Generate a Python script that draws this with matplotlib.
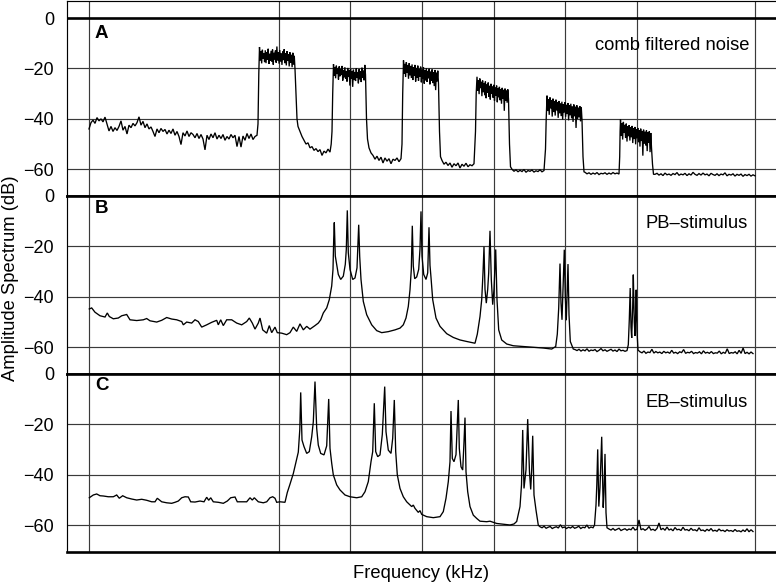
import numpy as np
import matplotlib
matplotlib.use("Agg")
import matplotlib.pyplot as plt

plt.rcParams['font.family'] = ['Liberation Sans', 'DejaVu Sans']

# ---------------------------------------------------------------
# Data (frequency in arbitrary axis units, level in dB)
# ---------------------------------------------------------------
grid_freq = [89.3, 278.7, 350.0, 422.0, 493.7, 565.3, 636.7, 755.0]
level_ticks = [0, -20, -40, -60]
tick_labels = ['0', '\u221220', '\u221240', '\u221260']

# Panel A - comb filtered noise: sharp band edges ...
a_freq = [258.0, 258.8, 296.0, 297.0, 298.0, 300, 302, 304, 306, 308, 310, 312, 314,
          316, 318, 320, 322, 324, 326, 328, 330, 331.2, 332.0, 332.7,
          366.5, 367.5, 402.0, 402.7, 439.5, 440.5, 475.5, 476.2,
          509.5, 510.5, 545.5, 546.2, 583.0, 584.0, 619.7, 620.1, 652.5, 653.5]
a_level = [-42.0, -22.0, -30.0, -40.0, -43.0, -45.0, -47.0, -48.5, -50.0, -49.5, -51.5, -51.0, -52.5,
           -51.8, -53.0, -52.2, -54.5, -52.8, -53.5, -52.0, -53.2, -50.0, -45.0, -30.0,
           -40.0, -48.0, -50.0, -30.0, -45.0, -55.0, -45.0, -30.0,
           -50.0, -59.0, -52.0, -40.0, -55.0, -61.0, -55.0, -45.0, -58.0, -62.0]
# ... and noisy runs: (first freq, last freq, levels evenly spaced in frequency)
a_runs = [
    (89, 257, [-44.0, -41.5, -40.5, -41.8, -39.5, -40.8, -40.0, -41.2, -39.3, -42.0, -44.8, -43.0,
               -45.0, -43.5, -44.6, -43.0, -40.8, -44.5, -43.0, -46.0, -42.5, -43.5, -41.8, -42.8,
               -41.5, -39.2, -42.5, -41.0, -43.5, -42.0, -44.0, -43.2, -45.0, -47.0, -44.0, -45.5,
               -43.8, -45.0, -44.2, -46.0, -44.5, -45.8, -44.0, -46.5, -45.0, -47.0, -50.2, -45.5,
               -46.8, -44.8, -47.0, -45.5, -46.2, -47.5, -45.8, -47.8, -46.2, -48.0, -52.3, -46.5,
               -48.2, -46.0, -47.5, -45.5, -48.0, -46.5, -47.8, -46.2, -48.5, -47.0, -48.0, -46.2,
               -47.5, -46.5, -51.0, -47.0, -51.2, -46.8, -48.5, -45.8, -47.8, -46.0, -48.2, -47.0,
               -46.5]),
    (259.5, 295.0, [-11.5, -16.8, -13.2, -18.0, -12.6, -16.2, -14.0, -17.5, -12.8, -17.9, -13.5,
                    -16.6, -12.2, -18.2, -14.2, -16.9, -13.0, -17.4, -12.5, -18.5, -13.8, -16.4,
                    -12.9, -17.7, -11.3, -16.8, -13.6, -18.1, -12.7, -17.2, -14.1, -18.6, -13.3,
                    -16.7, -12.4, -17.9, -13.9, -18.8, -13.1, -17.0, -14.4, -19.2, -13.6, -17.8,
                    -14.6, -19.5, -13.8, -18.4, -15.0, -20.2]),
    (333.5, 365.5, [-18.3, -22.8, -19.6, -23.9, -18.9, -22.2, -20.1, -24.4, -19.2, -23.1, -20.4,
                    -22.6, -19.0, -24.8, -20.6, -23.5, -19.5, -24.1, -21.0, -25.2, -19.8, -23.4,
                    -20.7, -26.8, -20.2, -24.0, -21.2, -27.3, -20.5, -24.6, -21.4, -25.0, -20.0,
                    -23.8, -21.6, -25.9, -20.3, -24.3, -21.1, -25.4, -19.7, -23.6, -20.9, -24.7,
                    -18.6, -22.5]),
    (369, 401, [-51.5, -53.5, -54.5, -56.0, -54.8, -56.5, -55.2, -57.5, -55.5, -56.8, -55.8,
                -57.8, -56.0, -56.5, -55.5, -57.0, -55.8]),
    (403.5, 438.5, [-16.8, -22.0, -18.2, -23.4, -17.5, -21.6, -18.8, -24.1, -17.9, -22.7, -19.0,
                    -23.8, -18.4, -24.6, -19.5, -22.9, -18.6, -25.2, -19.8, -23.6, -18.9, -24.9,
                    -20.2, -23.3, -19.3, -25.5, -20.5, -24.2, -19.6, -26.0, -20.8, -24.7, -19.9,
                    -25.3, -21.0, -23.9, -20.1, -26.3, -21.3, -24.8, -20.4, -25.8, -21.5, -27.0,
                    -20.6, -28.6, -21.7, -25.1, -20.9, -26.1]),
    (442, 474, [-56.5, -58.0, -57.2, -58.5, -57.5, -59.2, -57.8, -58.6, -57.5, -59.5, -58.0,
                -58.8, -57.6, -59.0, -58.2, -58.6, -57.8]),
    (477, 508.5, [-23.3, -28.9, -24.6, -30.2, -24.0, -27.8, -25.3, -31.0, -24.8, -29.4, -25.9,
                  -30.6, -25.2, -31.8, -26.4, -29.7, -25.6, -31.2, -26.9, -32.3, -26.1, -30.1,
                  -27.2, -31.6, -26.5, -32.8, -27.6, -30.7, -26.8, -33.4, -27.9, -31.4, -27.3,
                  -32.6, -28.2, -34.0, -27.7, -31.9, -28.5, -36.8, -28.0, -32.9, -28.8, -33.6,
                  -28.3, -32.2]),
    (512, 544, [-60.0, -60.8, -60.2, -61.0, -60.4, -60.9, -60.1, -61.2, -60.5, -60.8, -60.3,
                -61.1, -60.6, -60.9, -60.2, -61.0, -60.5]),
    (547, 582, [-30.8, -36.9, -32.2, -38.4, -31.5, -35.8, -32.7, -39.1, -32.0, -37.3, -33.1,
                -38.7, -32.4, -36.6, -33.5, -39.6, -32.9, -37.8, -33.8, -38.9, -33.2, -40.3,
                -34.1, -37.5, -33.4, -39.2, -34.4, -38.1, -33.7, -40.6, -34.7, -38.6, -34.0,
                -39.8, -35.0, -41.2, -34.3, -39.0, -35.2, -43.6, -34.6, -40.1, -35.5, -39.4,
                -34.9, -41.0, -35.3, -40.4]),
    (585, 619, [-61.2, -61.8, -61.4, -62.0, -61.5, -61.9, -61.3, -62.1, -61.6, -61.8, -61.4,
                -62.0, -61.5, -61.9, -61.3, -61.8, -61.5, -61.9]),
    (620.5, 651.5, [-40.3, -46.8, -41.8, -48.2, -41.2, -45.6, -42.4, -47.6, -41.9, -49.0, -43.0,
                    -46.9, -42.5, -48.6, -43.4, -47.3, -42.8, -49.6, -43.8, -48.0, -43.2, -50.1,
                    -44.2, -47.7, -43.6, -49.3, -44.5, -51.0, -43.9, -48.8, -44.8, -54.6, -44.3,
                    -49.9, -45.1, -50.6, -44.6, -52.8, -45.4, -49.5, -44.9, -53.2, -45.6, -51.4]),
    (655, 755, [-62.0, -61.6, -62.3, -61.8, -62.5, -61.5, -62.2, -61.9, -62.4, -61.7, -62.1,
                -61.3, -62.4, -61.9, -62.2, -61.6, -62.5, -61.8, -62.3, -61.2, -62.0, -62.4,
                -61.7, -62.3, -61.5, -62.2, -61.9, -62.6, -61.6, -62.1, -62.4, -61.8, -62.5,
                -61.9, -62.2, -61.4, -62.6, -62.0, -62.3, -61.8, -62.7, -62.0, -62.4, -61.9,
                -62.8, -62.1, -62.5, -62.0, -62.7, -62.2, -62.6]),
]

# Panel B - PB-stimulus
b_freq = [89.3, 91.7, 95, 100, 105, 107.3, 109.3, 113.3, 118.3, 121.7, 126.7, 130, 136.7, 143.3,
          146.7, 150, 156.7, 161.7, 166.7, 171.7, 176.7, 181.7, 183.3, 186.7, 191.7, 195, 198.3,
          201.7, 206.7, 211.7, 216.7, 218.3, 220.7, 223.3, 226.7, 231.7, 236.7, 241.7, 246.7,
          249.3, 252.3, 255, 258.3, 260, 262.7, 266.7, 269.3, 271.7, 275, 277.3, 281.7, 286.7,
          290, 293.3, 296.7, 300, 303.3, 306.7, 310, 315, 318.3, 320.7, 323.3, 326.7, 329.3,
          331.7, 333, 333.7, 334.3, 335.3, 336.7, 338.3, 340.7, 343.3, 345.3, 346.3, 347.3,
          348.3, 350, 352.7, 355, 357, 358, 358.7, 359.7, 361, 363.3, 366.7, 371.7, 376.7,
          381.7, 388.3, 395, 400, 403.3, 406, 408.3, 410, 411.3, 412.3, 413.3, 414.7, 416.7,
          418.7, 420, 421, 422, 423.7, 426, 427.7, 428.5, 429, 430, 431, 432.7, 436, 440, 446.7,
          453.3, 460, 466.7, 471.7, 475, 477.3, 480, 481.7, 483, 484, 485, 486.3, 487.7, 488.7,
          490, 491.3, 492.7, 494, 495.7, 497, 498.7, 501.7, 506.7, 513.3, 523.3, 533.3, 543.3,
          551.7, 555.7, 557.3, 558.7, 560, 561, 562, 563, 564.3, 565.3, 566.3, 567, 568, 569,
          570.3, 573.3, 628.3, 629.3, 630.2, 631, 631.7, 632.7, 633.3, 634.3, 635, 635.7,
          636.2, 637, 638]
b_level = [-44.8, -44.4, -46.1, -47.5, -48.0, -46.4, -47.8, -48.7, -48.4, -47.5, -47.0, -49.1,
           -49.4, -49.1, -48.6, -49.5, -50.0, -49.3, -48.2, -48.8, -49.1, -49.8, -51.1, -50.0,
           -50.4, -49.1, -49.8, -52.0, -51.1, -50.1, -49.3, -51.1, -49.1, -51.4, -49.1, -49.1,
           -50.4, -51.1, -49.8, -48.4, -50.4, -52.8, -50.4, -48.4, -53.1, -54.4, -51.4, -54.2,
           -52.0, -54.2, -54.4, -55.0, -54.2, -52.0, -53.7, -50.7, -53.1, -51.7, -52.8, -51.4,
           -50.4, -49.1, -46.4, -44.4, -41.1, -35.7, -29.1, -17.2, -10.5, -23.8, -27.1, -31.1,
           -33.1, -31.8, -27.1, -21.2, -5.7, -22.5, -29.1, -33.1, -32.5, -28.5, -18.0, -11.4,
           -24.0, -33.1, -41.8, -47.1, -51.1, -53.4, -54.2, -53.8, -53.1, -52.4, -51.1, -48.4,
           -43.8, -37.2, -29.1, -11.8, -27.8, -32.8, -32.1, -29.1, -21.0, -6.1, -23.8, -31.1,
           -33.1, -30.5, -20.0, -12.4, -27.5, -32.3, -41.1, -48.4, -51.7, -54.6, -56.1, -57.1,
           -57.7, -58.1, -58.4, -54.8, -47.8, -41.1, -30.5, -20.1, -37.0, -42.5, -37.0, -30.5,
           -13.8, -33.1, -43.1, -37.0, -21.2, -41.1, -53.1, -57.1, -58.7, -59.4, -59.7, -60.0,
           -60.3, -60.7, -59.7, -54.8, -44.5, -26.8, -42.5, -49.1, -37.0, -21.3, -40.0, -49.3,
           -40.0, -27.0, -47.0, -57.7, -60.7, -59.0, -49.0, -36.5, -52.0, -56.3, -44.0, -31.2,
           -50.0, -55.5, -46.0, -37.2, -53.5, -61.1]
b_runs = [
    (575, 627, [-60.9, -61.3, -60.8, -61.5, -61.0, -61.4, -60.6, -61.6, -61.1, -61.3, -60.9,
                -61.7, -61.2, -60.5, -61.4, -61.0, -61.6, -61.2, -60.8, -61.5, -61.1, -61.7,
                -60.7, -61.4, -61.2, -61.6, -61.3]),
    (640, 753, [-61.8, -62.2, -61.5, -62.4, -61.9, -62.1, -60.8, -62.3, -61.7, -62.2, -61.9,
                -62.5, -61.6, -62.2, -61.9, -62.4, -61.2, -62.3, -62.0, -62.5, -61.8, -62.1,
                -60.9, -62.4, -62.0, -62.2, -61.6, -62.5, -62.1, -62.3, -61.8, -62.6, -61.4,
                -62.3, -62.0, -62.4, -61.7, -62.5, -62.2, -62.3, -61.5, -62.6, -62.0, -62.4,
                -60.6, -62.5, -62.1, -62.3, -61.8, -62.6, -61.2, -62.4, -60.3, -62.5, -62.0,
                -62.6, -61.9, -62.5]),
]

# Panel C - EB-stimulus
c_freq = [89.3, 93.3, 96.7, 100, 103.3, 108.3, 113.3, 116.7, 119.3, 122.7, 126.7, 131.7, 136.7,
          141.7, 146.7, 151.7, 155, 157.3, 161.7, 166.7, 171.7, 175, 178.3, 181.7, 185, 188.3,
          190.7, 195, 200, 204, 206.7, 208.7, 210.7, 213.3, 218.3, 223.3, 227.3, 230.7, 235,
          237.3, 241.7, 246.7, 250, 252.3, 254.3, 258.3, 263.3, 266.7, 270, 272.7, 275, 276.7,
          280, 285, 287.3, 290, 293.3, 296, 298.3, 299.8, 300.7, 302, 304, 306.7, 309.3, 311.7,
          313.3, 315, 316.7, 318.3, 320.7, 324, 326.7, 328.7, 330, 331.7, 333.3, 336.7, 340,
          345, 350, 356.7, 361.7, 365, 368.3, 371, 372.7, 374.3, 375.7, 377.7, 380, 382.3,
          384.7, 386, 388.3, 391, 392.7, 394.3, 395.7, 397.3, 400, 403.3, 406.7, 411.7, 413.3,
          415, 418.3, 420, 421.7, 426.7, 433.3, 440, 443.3, 446, 448.3, 450, 451, 452.3, 454,
          456, 457.3, 458.3, 459.3, 461, 462.7, 464, 465, 466, 467.7, 470, 473.3, 476.7, 480,
          486.7, 490, 496.7, 503, 510, 514, 516.7, 520, 521.5, 522.7, 524, 526, 527.7, 529.5,
          530.7, 531.7, 532.7, 534, 536, 538.3, 594.5, 596, 596.8, 597.7, 598.8, 600, 601.7,
          603.2, 604, 605, 606, 607]
c_level = [-49.1, -48.0, -47.6, -48.3, -48.4, -48.7, -48.7, -48.0, -49.3, -48.3, -49.1, -49.6,
           -50.0, -49.7, -50.1, -50.7, -50.7, -49.3, -50.7, -51.1, -51.3, -50.9, -50.4, -49.1,
           -48.7, -48.8, -50.7, -50.8, -50.4, -50.7, -48.9, -50.1, -49.1, -50.7, -50.9, -51.3,
           -50.4, -49.1, -48.8, -50.7, -50.7, -50.7, -49.1, -50.0, -49.1, -50.7, -51.1, -50.7,
           -49.1, -48.7, -49.3, -50.9, -50.7, -50.9, -47.0, -43.7, -39.5, -35.0, -31.0, -22.0,
           -7.3, -26.2, -28.8, -31.5, -30.8, -24.9, -19.0, -3.0, -21.6, -28.2, -31.5, -32.1,
           -28.5, -9.9, -29.5, -35.4, -40.0, -44.0, -46.0, -48.0, -48.7, -49.1, -48.7, -46.7,
           -42.7, -34.8, -30.8, -11.6, -30.8, -32.8, -32.1, -24.0, -5.0, -22.9, -30.2, -31.5,
           -25.5, -10.3, -30.8, -40.0, -45.4, -48.7, -50.7, -52.6, -52.0, -53.3, -54.9, -54.2,
           -55.7, -56.6, -57.0, -56.6, -54.6, -49.3, -42.7, -34.8, -14.7, -33.5, -34.8, -32.0,
           -20.0, -10.3, -29.5, -36.8, -38.1, -27.0, -17.3, -38.8, -46.7, -52.6, -56.0, -57.3,
           -58.4, -58.6, -58.4, -59.3, -59.6, -59.9, -59.5, -58.5, -52.6, -44.0, -22.2, -45.4,
           -38.0, -17.9, -39.0, -45.8, -38.0, -24.5, -48.0, -54.0, -60.0, -60.0, -52.0, -44.0,
           -29.9, -52.6, -45.0, -24.9, -53.0, -47.0, -31.7, -55.0, -61.0]
c_runs = [
    (540, 593, [-60.6, -61.0, -60.4, -61.2, -60.8, -60.5, -61.3, -60.9, -60.6, -61.1, -59.8,
                -61.0, -60.7, -61.3, -60.8, -61.1, -60.5, -61.2, -60.9, -60.4, -61.3, -60.8,
                -61.0, -59.9, -61.2, -60.7, -61.0]),
    (609, 753, [-61.5, -61.9, -61.3, -62.0, -61.6, -61.2, -62.1, -61.7, -61.4, -62.0, -61.5,
                -61.8, -60.8, -61.9, -61.6, -57.9, -61.8, -61.4, -62.0, -61.5, -60.5, -61.9,
                -61.6, -62.1, -61.3, -59.1, -61.8, -61.2, -62.0, -60.7, -61.9, -61.5, -62.2,
                -60.9, -61.8, -61.6, -62.1, -60.8, -61.9, -61.7, -62.2, -61.2, -62.0, -61.8,
                -62.3, -61.0, -62.1, -61.9, -62.4, -61.6, -62.2, -61.3, -62.3, -62.0, -62.4,
                -61.5, -62.2, -62.0, -62.5, -61.8, -62.3, -62.1, -62.5, -61.7, -62.4, -62.2,
                -62.6, -61.9, -62.5, -61.4, -62.6, -61.8, -62.5]),
]


def spectrum(freq, level, runs):
    f = list(freq)
    v = list(level)
    for f0, f1, lv in runs:
        f.extend(np.linspace(f0, f1, len(lv)))
        v.extend(lv)
    f = np.asarray(f, dtype=float)
    v = np.asarray(v, dtype=float)
    order = np.argsort(f, kind='stable')
    return f[order], v[order]


panels = [
    dict(data=spectrum(a_freq, a_level, a_runs), letter='A', title='comb filtered noise',
         ylim=(-70.6, 6.75), letter_y=-6.2, title_y=-12.7, title_x=749.3),
    dict(data=spectrum(b_freq, b_level, b_runs), letter='B', title='PB\u2013stimulus',
         ylim=(-70.6, 0), letter_y=-5.0, title_y=-12.7, title_x=747.7),
    dict(data=spectrum(c_freq, c_level, c_runs), letter='C', title='EB\u2013stimulus',
         ylim=(-70.5, 0), letter_y=-4.7, title_y=-13.0, title_x=747.7),
]

W, H = 776, 585
fig = plt.figure(figsize=(W / 100, H / 100), dpi=100)
left_px, right_px = 67.3, 776.0
rows_px = [(1.0, 196.0), (196.0, 374.0), (374.0, 551.7)]

grid_color = '#3a3a3a'
thin = 0.85
thick = 1.9

for p, (top_px, bot_px) in zip(panels, rows_px):
    ax = fig.add_axes([left_px / W, 1 - bot_px / H, (right_px - left_px) / W, (bot_px - top_px) / H])
    ax.set_xlim(left_px, right_px)
    ax.set_ylim(*p['ylim'])
    for g in grid_freq:
        ax.axvline(g, color=grid_color, lw=thin, zorder=1)
    for lv in level_ticks[1:]:
        ax.axhline(lv, color=grid_color, lw=thin, zorder=1)
    if p['letter'] == 'A':
        ax.axhline(0, color='black', lw=thick, zorder=2)
        ax.spines['top'].set_linewidth(thin)
    else:
        ax.spines['top'].set_linewidth(thick)
    ax.spines['bottom'].set_linewidth(thick)
    ax.spines['left'].set_linewidth(thin)
    ax.spines['right'].set_visible(False)
    for s in ax.spines.values():
        s.set_color('black')

    f, v = p['data']
    ax.plot(f, v, color='black', lw=0.95, zorder=3, solid_joinstyle='miter')

    ax.set_xticks([])
    ax.set_yticks(level_ticks)
    ax.set_yticklabels(tick_labels)
    ax.tick_params(axis='y', length=0, pad=9.5, labelsize=13, colors='black')

    ax.text(95, p['letter_y'], p['letter'], fontsize=13.5, fontweight='bold',
            ha='left', va='center', zorder=4)
    ax.text(p['title_x'], p['title_y'], p['title'], fontsize=13.2,
            ha='right', va='baseline', zorder=4)

fig.text(421 / W, 1 - 578 / H, 'Frequency (kHz)', fontsize=13.2, ha='center', va='baseline')
fig.text(10.5 / W, 1 - 278 / H, 'Amplitude Spectrum (dB)', fontsize=13.2, rotation=90,
         ha='center', va='center')

fig.savefig('out.png', dpi=100)
